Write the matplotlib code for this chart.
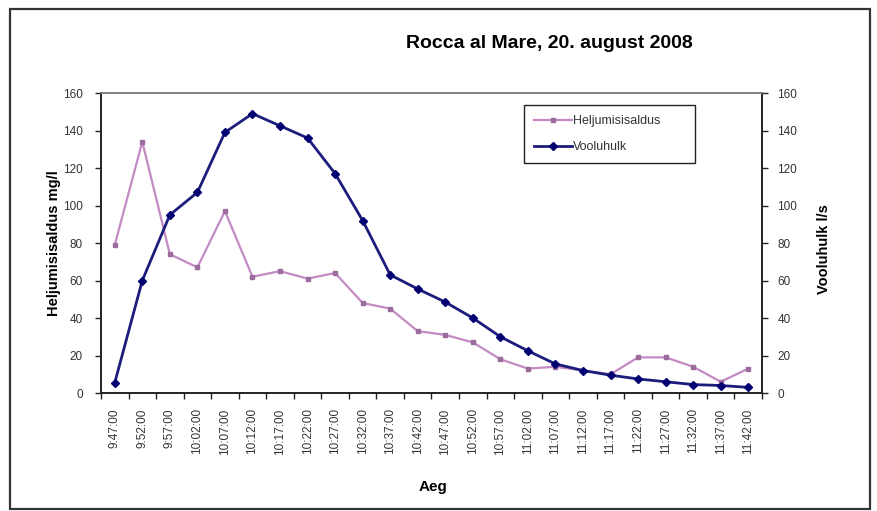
import matplotlib.pyplot as plt
from matplotlib.patches import Rectangle

plt.rcParams['font.family'] = ['Liberation Sans', 'DejaVu Sans']

# Mõõtmiste ajad
times = ['9:47:00', '9:52:00', '9:57:00', '10:02:00', '10:07:00', '10:12:00',
         '10:17:00', '10:22:00', '10:27:00', '10:32:00', '10:37:00', '10:42:00',
         '10:47:00', '10:52:00', '10:57:00', '11:02:00', '11:07:00', '11:12:00',
         '11:17:00', '11:22:00', '11:27:00', '11:32:00', '11:37:00', '11:42:00']
# Heljumisisaldus mg/l
heljum = [79, 134, 74, 67, 97, 62, 65, 61, 64, 48, 45, 33,
          31, 27, 18, 13, 14, 12, 10, 19, 19, 14, 6, 13]
# Vooluhulk l/s
vooluhulk = [5.5, 60, 95, 107, 139, 149, 142.5, 136, 117, 92, 63, 55.5,
             48.5, 40, 30, 22.5, 15.5, 12, 9.5, 7.5, 6, 4.5, 4, 3]
y_ticks = [0, 20, 40, 60, 80, 100, 120, 140, 160]

W, H = 877, 511
fig = plt.figure(figsize=(W / 100, H / 100), dpi=100)
ax = fig.add_axes([101 / W, 1 - 393 / H, 661 / W, 300 / H])
ax2 = ax.twinx()

x = list(range(len(times)))
l1, = ax.plot(x, heljum, color='#c48ac4', lw=1.6, marker='s', ms=3.5,
              mfc='#9c6c9c', mec='#9c6c9c', label='Heljumisisaldus')
l2, = ax2.plot(x, vooluhulk, color='#1c1c7c', lw=2, marker='D', ms=4.5,
               mfc='#000070', mec='#000070', label='Vooluhulk')

for a in (ax, ax2):
    a.set_ylim(0, 160)
    a.set_yticks(y_ticks)
    a.set_xlim(-0.5, len(times) - 0.5)
    for s in a.spines.values():
        s.set_color('#808080')
        s.set_linewidth(1.2)
    a.spines['left'].set_color('#222222')
    a.spines['right'].set_color('#222222')
    a.spines['bottom'].set_color('#222222')

ax.set_xticks(x)
ax.set_xticklabels(times, rotation=90, fontsize=8.5, color='#333333')
ax.set_xticks([i - 0.5 for i in range(len(times) + 1)], minor=True)
ax.tick_params(axis='x', which='major', length=0, pad=11)
ax.tick_params(axis='x', which='minor', length=4, width=1, color='#222222')
ax.tick_params(axis='y', length=4, width=1, pad=9, labelsize=8.5,
               labelcolor='#333333', color='#222222')
ax2.tick_params(axis='y', length=4, width=1, pad=7, labelsize=8.5,
                labelcolor='#333333', color='#222222')

ax.set_ylabel('Heljumisisaldus mg/l', fontsize=10.5, fontweight='bold')
ax.yaxis.set_label_coords(-0.06, 0.5)
ax2.set_ylabel('Vooluhulk l/s', fontsize=10.5, fontweight='bold')
ax2.yaxis.set_label_coords(1.083, 0.48)

fig.text(549 / W, 1 - 43 / H, 'Rocca al Mare, 20. august 2008',
         ha='center', va='center', fontsize=14, fontweight='bold')
fig.text(433 / W, 1 - 487 / H, 'Aeg', ha='center', va='center',
         fontsize=11, fontweight='bold')

leg = ax2.legend([l1, l2], ['Heljumisisaldus', 'Vooluhulk'],
                 loc='upper left',
                 bbox_to_anchor=(524 / W, 1 - 161 / H, 171 / W, 56 / H),
                 bbox_transform=fig.transFigure, mode='expand', borderaxespad=0,
                 fontsize=9, handlelength=3, handletextpad=0.1,
                 fancybox=False, framealpha=1, borderpad=0.8, labelspacing=1.15)
leg.get_frame().set_edgecolor('#222222')
leg.get_frame().set_linewidth(1)
for t in leg.get_texts():
    t.set_color('#333333')

# Välimine raam
fig.patches.append(Rectangle((10 / W, 1 - 509 / H), 860 / W, 500 / H,
                             transform=fig.transFigure, fill=False,
                             edgecolor='#333333', linewidth=1.6))

fig.savefig('out.png', dpi=100)
